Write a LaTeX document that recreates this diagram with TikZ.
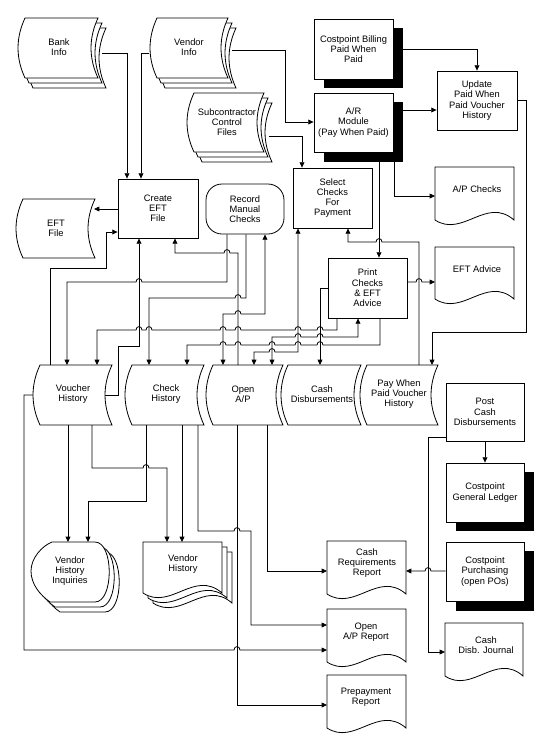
\documentclass[tikz,border=0pt]{standalone}
\usepackage{fontspec}
\setmainfont{Liberation Sans}
\usetikzlibrary{arrows.meta}
\newcommand{\SDone}[4]{\filldraw[sdl] ({#1},{#3}) -- ({#2},{#3}) .. controls ({(#2)-9.3},{(#3)+((#4)-(#3))/3}) and ({(#2)-9.3},{(#4)-((#4)-(#3))/3}) .. ({#2},{#4}) -- ({#1},{#4}) .. controls ({(#1)-9.3},{(#4)-((#4)-(#3))/3}) and ({(#1)-9.3},{(#3)+((#4)-(#3))/3}) .. cycle;}
\newcommand{\SDstack}[4]{\SDone{#1+8}{#2+8}{#3+10}{#4+10}\SDone{#1+4}{#2+4}{#3+5}{#4+5}\SDone{#1}{#2}{#3}{#4}}
\newcommand{\DOC}[4]{\filldraw[sdl] ({#1},{#3}) -- ({#2},{#3}) -- ({#2},{#4}) .. controls ({(#1)+0.65*((#2)-(#1))},{(#4)-24}) and ({(#1)+0.35*((#2)-(#1))},{(#4)+18}) .. ({#1},{#4}) -- cycle;}
\newcommand{\DISP}[2]{\filldraw[sdl] ({52+#1},{542+#2}) -- ({95+#1},{542+#2}) .. controls ({114+#1},{542+#2}) and ({114+#1},{602+#2}) .. ({95+#1},{602+#2}) -- ({50+#1},{602+#2}) .. controls ({40+#1},{595+#2}) and ({31+#1},{584+#2}) .. ({31+#1},{571+#2}) .. controls ({31+#1},{558+#2}) and ({42+#1},{546+#2}) .. cycle;}
\begin{document}
\begin{tikzpicture}[x=0.75pt,y=-0.75pt,line width=0.6pt,
  txt/.style={font=\fontsize{7}{7.7}\selectfont, align=center, inner sep=0pt},
  proc/.style={draw, fill=white, txt},
  sz/.style 2 args={minimum width={#1*0.75pt}, minimum height={#2*0.75pt}},
  sdl/.style={fill=white, draw=black, line width=0.6pt},
  arr/.style={-{Triangle[length=4pt,width=3.6pt]}},
  darr/.style={{Triangle[length=4pt,width=3.6pt]}-{Triangle[length=4pt,width=3.6pt]}},
  jr/.style 2 args={insert path={-- ({#1-3},{#2}) .. controls ({#1-3},{#2-4.5}) and ({#1+3},{#2-4.5}) .. ({#1+3},{#2})}},
  jl/.style 2 args={insert path={-- ({#1+3},{#2}) .. controls ({#1+3},{#2-4.5}) and ({#1-3},{#2-4.5}) .. ({#1-3},{#2})}}]
\fill[white] (0,0) rectangle (552,754);
\useasboundingbox (0,0) rectangle (552,754);

% ---------- top data stores ----------
\SDstack{25}{98}{18}{78}
\node[txt] (bank) at (59,47) {Bank\\Info};
\SDstack{157}{228}{18}{78}
\node[txt] (vendor) at (189,47) {Vendor\\Info};
\SDstack{194}{264}{93}{152}
\node[txt] (sub) at (227,122) {Subcontractor\\Control\\Files};

% ---------- processes top ----------
\fill (324,28) rectangle (403,88);
\node[proc,sz={79}{60}] (bill) at (353.5,49) {Costpoint Billing\\Paid When\\Paid};
\fill (324,102) rectangle (403,162);
\node[proc,sz={79}{59}] (ar) at (353.5,122.5) {A/R\\Module\\(Pay When Paid)};
\node[proc,sz={80}{59}] (upd) at (477,100.5) {Update\\Paid When\\Paid Voucher\\History};
\DOC{435}{514}{167}{220}
\node[txt] (apc) at (477,189) {A/P Checks};
\node[proc,sz={79}{60}] (sel) at (332.5,198) {Select\\Checks\\For\\Payment};
\node[proc,sz={80}{59}] (cef) at (158,208.5) {Create\\EFT\\File};
\node[proc,sz={78}{50},rounded corners=12pt] (rmc) at (245,209) {Record\\Manual\\Checks};
\SDone{23}{95}{199}{258}
\node[txt] (eftf) at (56,228) {EFT\\File};
\node[proc,sz={79}{60}] (prt) at (367.5,288) {Print\\Checks\\\& EFT\\Advice};
\DOC{435}{514}{247}{299}
\node[txt] (efta) at (477,269) {EFT Advice};

% ---------- row of data stores ----------
\SDone{40}{112}{365}{425}
\SDone{132}{204}{365}{425}
\SDone{213}{283}{365}{425}
\SDone{288}{361}{365}{425}
\SDone{367}{438}{365}{425}
\node[txt] (vh) at (73,394) {Voucher\\History};
\node[txt] (ch) at (166,394) {Check\\History};
\node[txt] (oap) at (243,394) {Open\\A/P};
\node[txt] (cd) at (322,394) {Cash\\Disbursements};
\node[txt] (pwp) at (399,394) {Pay When\\Paid Voucher\\History};

% ---------- right column ----------
\node[proc,sz={78}{58}] (pcd) at (485,412) {Post\\Cash\\Disbursements};
\fill (456,472) rectangle (534,531);
\node[proc,sz={78}{59}] (gl) at (485,492.5) {Costpoint\\General Ledger};
\fill (456,551) rectangle (534,611);
\node[proc,sz={78}{59}] (pur) at (485,571.5) {Costpoint\\Purchasing\\(open POs)};
\DOC{445}{523}{623}{676}
\node[txt] (cdj) at (486,645) {Cash\\Disb. Journal};

% ---------- reports ----------
\DOC{327}{406}{541}{594}
\node[txt] (crr) at (367,563) {Cash\\Requirements\\Report};
\DOC{327}{406}{609}{662}
\node[txt] (oapr) at (366,632) {Open\\A/P Report};
\DOC{327}{406}{675}{728}
\node[txt] (ppr) at (366,697) {Prepayment\\Report};

% ---------- vendor history outputs ----------
\DISP{10}{10}\DISP{5}{5}\DISP{0}{0}
\node[txt] (vhi) at (70,571) {Vendor\\History\\Inquiries};
\DOC{153}{232}{552}{603}\DOC{148}{227}{547}{598}\DOC{143}{222}{542}{593}
\node[txt] (vhd) at (183,564) {Vendor\\History};

% ---------- connectors (top) ----------
\draw[arr] (102,53) -| (cef.north -| 127,0);
\draw[arr] (149,53) -| (cef.north -| 141,0);
\draw[arr] (232,50) -| (285,122) -- (ar.west |- 0,122);
\draw[arr] (269,136) -| (sel.north -| 302,0);
\draw[arr] (403,49) -| (upd.north -| 477,0);
\draw[arr] (403,110) -- (upd.west |- 0,110);
\draw[arr] (394,162) |- (435,196);
\draw[arr] (379,162) -- (prt.north -| 379,0);
\draw[arr] (upd.east |- 0,100) -- (526,100) -- (526,332) -- (432,332) -- (432,365);
\draw[arr] (419,365) -- (419,242) [jl={379}{242}] -- (348,242) -- (sel.south -| 348,0);
\draw[arr] (prt.east |- 0,282) [jr={419}{282}] -- (435,282);
\draw[arr] (cef.west |- 0,209) -- (94,209);
\draw[arr] (50,365) -- (50,268) -- (106,268) -- (106,232) -- (cef.west |- 0,232);
\draw[arr] (105,395) -- (118,395) -- (118,346) -- (139,346) -- (cef.south -| 139,0);
\draw[arr] (238,365) -- (238,253) [jl={227}{253}] -- (175,253) -- (cef.south -| 175,0);
\draw[arr] (rmc.south -| 227,0) -- (227,282) [jl={139}{282}] -- (67,282) -- (67,365);
\draw[arr] (rmc.south -| 246,0) -- (246,298) [jl={238}{298}] -- (149,298) -- (149,365);
\draw[darr] (223,365) -- (223,314) [jr={238}{314}] -- (265,314) -- (rmc.south -| 265,0);
\draw[arr] (prt.south -| 337,0) -- (337,330) [jl={320}{330}] [jl={298}{330}] [jl={238}{330}] [jl={223}{330}] [jl={149}{330}] [jl={139}{330}] -- (97,330) -- (97,365);
\draw[darr] (prt.south -| 358,0) -- (358,337) [jl={320}{337}] [jl={298}{337}] -- (272,337) -- (272,365);
\draw[arr] (prt.south -| 380,0) -- (380,345) [jl={320}{345}] [jl={298}{345}] [jl={272}{345}] [jl={238}{345}] [jl={223}{345}] -- (187,345) -- (187,365);
\draw[darr] (sel.south -| 298,0) -- (298,352) [jl={272}{352}] -- (254,352) -- (254,365);
\draw[arr] (prt.west |- 0,288) -- (320,288) -- (320,365);

% ---------- connectors (bottom) ----------
\draw[arr] (33,395) -- (24,395) -- (24,650) [jr={237}{650}] -- (327,650);
\draw[arr] (68,425) -- (68,542);
\draw[arr] (92,425) -- (92,468) [jr={146}{468}] -- (167,468) -- (167,542);
\draw[arr] (146,425) -- (146,501) -- (88,501) -- (88,542);
\draw[arr] (182,425) -- (182,542);
\draw[arr] (198,425) -- (198,531) [jr={237}{531}] -- (251,531) -- (251,625) -- (327,625);
\draw[arr] (237,425) -- (237,705) -- (327,705);
\draw[arr] (267,425) -- (267,571) -- (327,571);
\draw[arr] (pur.west |- 0,571) [jl={428}{571}] -- (406,571);
\draw[arr] (pcd.west |- 0,437) -- (428,437) -- (428,652) -- (445,652);
\draw[arr] (pcd.south) -- (gl.north);
\end{tikzpicture}
\end{document}
